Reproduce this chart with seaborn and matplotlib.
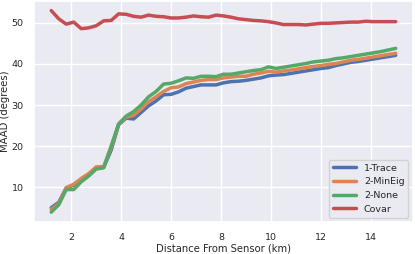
import numpy as np
import pandas as pd
import matplotlib
matplotlib.use("Agg")
import matplotlib.pyplot as plt
import seaborn as sns

distance = [1.2, 1.5, 1.8, 2.1, 2.4, 2.7, 3.0, 3.3, 3.6, 3.9, 4.2, 4.5, 4.8, 5.1, 5.4,
            5.7, 6.0, 6.3, 6.6, 6.9, 7.2, 7.5, 7.8, 8.1, 8.4, 8.7, 9.0, 9.3, 9.6, 9.9,
            10.2, 10.5, 10.8, 11.1, 11.4, 11.7, 12.0, 12.3, 12.6, 12.9, 13.2, 13.5,
            13.8, 14.1, 14.4, 14.7, 15.0]

trace1 = [5.0, 6.3, 9.8, 10.5, 11.8, 13.0, 14.8, 14.8, 19.0, 25.2, 26.8, 26.6, 28.2,
          29.8, 31.0, 32.5, 32.6, 33.2, 34.1, 34.5, 34.9, 34.9, 34.9, 35.4, 35.7, 35.8,
          36.0, 36.3, 36.6, 37.1, 37.3, 37.4, 37.7, 38.0, 38.3, 38.6, 38.9, 39.1, 39.6,
          40.0, 40.4, 40.6, 40.9, 41.2, 41.5, 41.8, 42.1]

mineig2 = [4.6, 6.0, 9.9, 10.7, 12.1, 13.3, 14.9, 15.0, 19.6, 25.3, 27.0, 27.5, 29.0,
           30.8, 32.0, 33.3, 34.2, 34.4, 35.2, 35.6, 36.0, 36.2, 36.2, 36.6, 36.8, 37.0,
           37.0, 37.5, 37.8, 38.2, 38.0, 38.3, 38.5, 38.8, 39.1, 39.4, 39.6, 39.9, 40.1,
           40.5, 40.9, 41.1, 41.4, 41.7, 42.0, 42.3, 42.6]

none2 = [3.9, 5.7, 9.4, 9.4, 11.3, 12.7, 14.4, 14.7, 20.0, 25.4, 27.3, 28.4, 30.0,
         32.0, 33.3, 35.1, 35.3, 35.9, 36.6, 36.5, 37.0, 37.0, 36.9, 37.5, 37.5, 37.8,
         38.1, 38.4, 38.6, 39.3, 38.9, 39.2, 39.5, 39.8, 40.1, 40.5, 40.7, 40.9, 41.3,
         41.5, 41.8, 42.1, 42.4, 42.7, 43.0, 43.4, 43.8]

covar = [53.0, 51.0, 49.7, 50.2, 48.6, 48.8, 49.3, 50.5, 50.6, 52.2, 52.1, 51.6, 51.4,
         51.9, 51.6, 51.5, 51.2, 51.2, 51.4, 51.7, 51.5, 51.4, 51.9, 51.7, 51.4, 51.0,
         50.8, 50.6, 50.5, 50.3, 50.0, 49.6, 49.6, 49.6, 49.5, 49.7, 49.9, 49.9, 50.0,
         50.1, 50.2, 50.2, 50.4, 50.3, 50.3, 50.3, 50.3]

methods = ['1-Trace', '2-MinEig', '2-None', 'Covar']
series = [trace1, mineig2, none2, covar]

rows = []
for name, vals in zip(methods, series):
    for d, v in zip(distance, vals):
        rows.append({'Distance': d, 'MAAD': v, 'Method': name})
df = pd.DataFrame(rows)

sns.set_theme(style='darkgrid')

fig, ax = plt.subplots(figsize=(4.15, 2.54), dpi=100)
sns.lineplot(data=df, x='Distance', y='MAAD', hue='Method', hue_order=methods,
             palette=sns.color_palette()[:4], linewidth=2.5, ax=ax)

ax.set_xticks([2, 4, 6, 8, 10, 12, 14])
ax.set_yticks([10, 20, 30, 40, 50])
ax.tick_params(labelsize=6.8, pad=1.5)
ax.set_xlabel('Distance From Sensor (km)', fontsize=7.2, labelpad=1)
ax.set_ylabel('MAAD (degrees)', fontsize=7.2, labelpad=1)
leg = ax.legend(loc='lower right', fontsize=6.8, handlelength=2.5)
leg.set_title(None)
for line in leg.get_lines():
    line.set_linewidth(2.5)

plt.subplots_adjust(left=0.082, right=0.995, bottom=0.125, top=0.998)
plt.savefig('out.png', dpi=100)
